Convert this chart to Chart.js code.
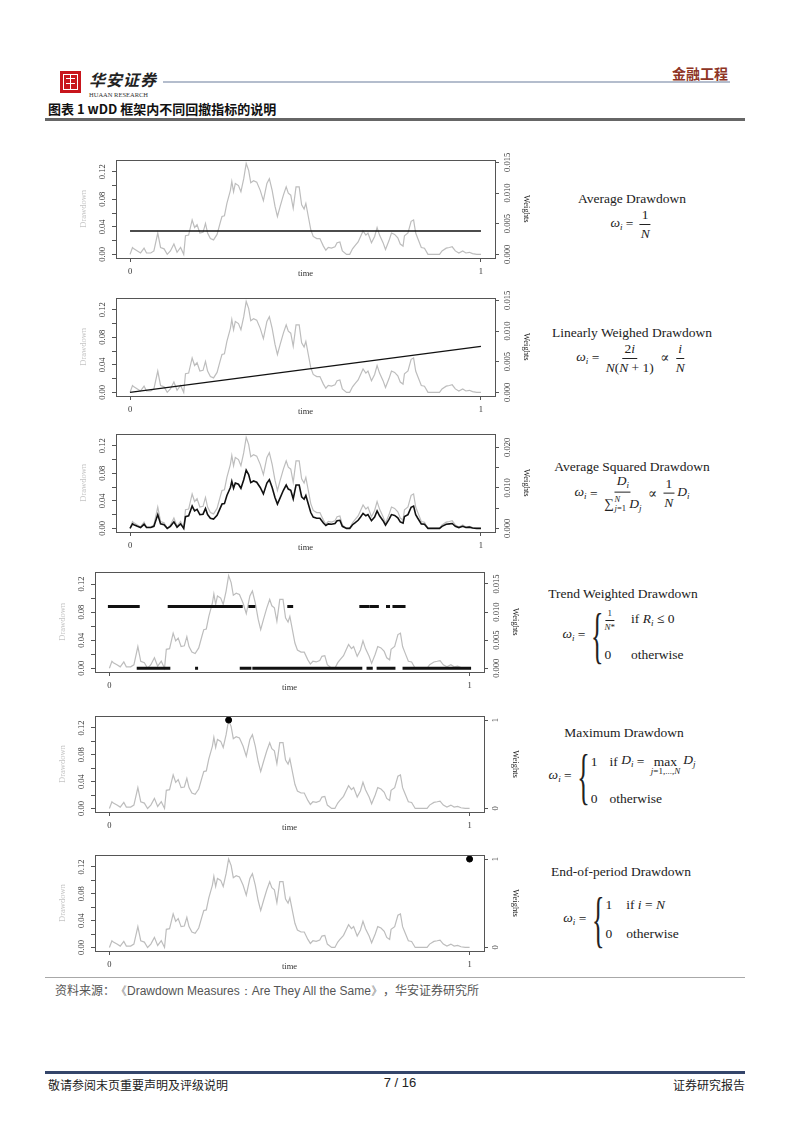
<!DOCTYPE html>
<html>
<head>
<meta charset="utf-8">
<script src="https://cdn.jsdelivr.net/npm/chart.js@4.4.0/dist/chart.umd.min.js"></script>
<style>
  body { margin: 0; background: #fff; width: 802px; height: 1133px; position: relative; overflow: hidden; font-family: "Noto Sans CJK SC", sans-serif; }
  .abs { position: absolute; white-space: nowrap; }
  canvas { position: absolute; }
  .mt { position: absolute; font-family: "Liberation Serif", "DejaVu Serif", serif; font-size: 13.5px; color: #222; white-space: nowrap; transform: translate(-50%, -50%); line-height: 1; }
  .fx { display: inline-flex; align-items: center; }
  .frac { display: inline-flex; flex-direction: column; align-items: center; margin: 0 3px; }
  .frac .n { border-bottom: 1px solid #222; padding: 0 2px 2px; text-align: center; }
  .frac .d { padding-top: 2px; }
  .sm { font-size: 9px; }
  sub { font-size: 9px; vertical-align: -3px; }
  .brace { font-size: 62px; font-weight: 200; display: inline-block; transform: scaleX(0.42); line-height: 1; margin: 0 -8px 0 -6px; }
  .rows { display: grid; grid-template-columns: auto auto; column-gap: 16px; row-gap: 16px; align-items: center; }
  .lim { display: inline-flex; flex-direction: column; align-items: center; margin: 0 3px; }
  .lim .sm { margin-top: -1px; }
  .sig { display: inline-flex; align-items: center; }
  .sig .st { display: inline-flex; flex-direction: column; font-size: 8.5px; line-height: 1; margin-left: 1px; }
</style>
</head>
<body>

<!-- header -->
<div class="abs" style="left:60px;top:71px;width:21px;height:22px;background:#c8161d;">
  <div class="abs" style="left:3px;top:3px;width:13px;height:14px;border:1px solid #fff;"></div>
  <div class="abs" style="left:6px;top:7px;width:9px;height:1px;background:#fff;"></div>
  <div class="abs" style="left:6px;top:12px;width:9px;height:1px;background:#fff;"></div>
  <div class="abs" style="left:10px;top:4px;width:1px;height:14px;background:#fff;"></div>
</div>
<div class="abs" style="left:89px;top:67px;font-size:16px;font-weight:700;font-style:italic;color:#222;letter-spacing:1px;">华安证券</div>
<div class="abs" style="left:89px;top:91px;font-family:'Liberation Serif',serif;font-size:6.5px;color:#333;">HUAAN RESEARCH</div>
<div class="abs" style="left:163px;top:81px;width:567px;height:2px;background:#b4bdcd;"></div>
<div class="abs" style="left:672px;top:63px;font-size:14px;font-weight:700;color:#8e3424;">金融工程</div>
<div class="abs" style="left:48px;top:99px;font-size:13px;font-weight:700;color:#111;">图表 1 wDD 框架内不同回撤指标的说明</div>
<div class="abs" style="left:45px;top:118px;width:700px;height:3px;background:#666;"></div>

<canvas id="c1"></canvas>
<canvas id="c2"></canvas>
<canvas id="c3"></canvas>
<canvas id="c4"></canvas>
<canvas id="c5"></canvas>
<canvas id="c6"></canvas>

<!-- formulas -->
<div class="mt" style="left:632px;top:199px;">Average Drawdown</div>
<div class="mt" style="left:632px;top:224px;"><span class="fx"><i>ω<sub>i</sub></i>&nbsp;=&nbsp;<span class="frac"><span class="n">1</span><span class="d"><i>N</i></span></span></span></div>

<div class="mt" style="left:632px;top:333px;">Linearly Weighed Drawdown</div>
<div class="mt" style="left:632px;top:358px;"><span class="fx"><i>ω<sub>i</sub></i>&nbsp;=&nbsp;<span class="frac"><span class="n">2<i>i</i></span><span class="d"><i>N</i>(<i>N</i> + 1)</span></span>&nbsp;∝&nbsp;<span class="frac"><span class="n"><i>i</i></span><span class="d"><i>N</i></span></span></span></div>

<div class="mt" style="left:632px;top:467px;">Average Squared Drawdown</div>
<div class="mt" style="left:632px;top:493px;"><span class="fx"><i>ω<sub>i</sub></i>&nbsp;=&nbsp;<span class="frac"><span class="n"><i>D<sub>i</sub></i></span><span class="d"><span class="sig">∑<span class="st"><span><i>N</i></span><span><i>j</i>=1</span></span></span>&nbsp;<i>D<sub>j</sub></i></span></span>&nbsp;∝&nbsp;<span class="frac"><span class="n">1</span><span class="d"><i>N</i></span></span><i>D<sub>i</sub></i></span></div>

<div class="mt" style="left:623px;top:594px;">Trend Weighted Drawdown</div>
<div class="mt" style="left:623px;top:635px;"><span class="fx"><i>ω<sub>i</sub></i>&nbsp;=&nbsp;<span class="brace">{</span><span class="rows"><span class="frac sm" style="margin:0"><span class="n">1</span><span class="d"><i>N</i>*</span></span><span>if <i>R<sub>i</sub></i> ≤ 0</span><span>0</span><span>otherwise</span></span></span></div>

<div class="mt" style="left:624px;top:733px;">Maximum Drawdown</div>
<div class="mt" style="left:622px;top:776px;"><span class="fx"><i>ω<sub>i</sub></i>&nbsp;=&nbsp;<span class="brace">{</span><span class="rows" style="column-gap:12px"><span>1</span><span class="fx">if <i>&nbsp;D<sub>i</sub></i>&nbsp;=&nbsp;<span class="lim" style="margin-top:8px">max<span class="sm"><i>j</i>=1,...,<i>N</i></span></span><i>D<sub>j</sub></i></span><span>0</span><span>otherwise</span></span></span></div>

<div class="mt" style="left:621px;top:872px;">End-of-period Drawdown</div>
<div class="mt" style="left:621px;top:919px;"><span class="fx"><i>ω<sub>i</sub></i>&nbsp;=&nbsp;<span class="brace">{</span><span class="rows" style="column-gap:14px"><span>1</span><span>if <i>i</i> = <i>N</i></span><span>0</span><span>otherwise</span></span></span></div>

<!-- source + footer -->
<div class="abs" style="left:45px;top:977px;width:700px;height:1px;background:#a8a8a8;"></div>
<div class="abs" style="left:55px;top:981px;font-size:12px;color:#555;">资料来源：<span style="font-family:'Liberation Sans',Arial,sans-serif;">《Drawdown Measures：Are They All the Same》</span>，华安证券研究所</div>
<div class="abs" style="left:45px;top:1071px;width:700px;height:3px;background:#34456a;"></div>
<div class="abs" style="left:48px;top:1076px;font-size:12px;color:#222;">敬请参阅末页重要声明及评级说明</div>
<div class="abs" style="left:400px;top:1075px;font-family:'Liberation Sans',Arial,sans-serif;font-size:13px;color:#222;transform:translateX(-50%);">7 / 16</div>
<div class="abs" style="right:57px;top:1076px;font-size:12px;color:#222;">证券研究报告</div>

<script>
// drawdown series (time scaled to 0..1)
const ddTime = [0.000, 0.007, 0.011, 0.021, 0.030, 0.040, 0.047, 0.059, 0.068, 0.079,
  0.087, 0.097, 0.106, 0.115, 0.125, 0.134, 0.144, 0.153, 0.158, 0.167,
  0.177, 0.184, 0.191, 0.199, 0.208, 0.215, 0.221, 0.229, 0.238, 0.248,
  0.257, 0.262, 0.269, 0.276, 0.286, 0.290, 0.295, 0.300, 0.309, 0.316,
  0.324, 0.331, 0.338, 0.344, 0.352, 0.361, 0.371, 0.380, 0.390, 0.397,
  0.405, 0.413, 0.420, 0.428, 0.437, 0.445, 0.451, 0.458, 0.465, 0.473,
  0.482, 0.489, 0.496, 0.501, 0.508, 0.515, 0.522, 0.532, 0.541, 0.551,
  0.558, 0.565, 0.574, 0.584, 0.590, 0.598, 0.605, 0.617, 0.626, 0.634,
  0.640, 0.650, 0.657, 0.664, 0.672, 0.678, 0.688, 0.697, 0.704, 0.711,
  0.721, 0.728, 0.738, 0.745, 0.754, 0.763, 0.770, 0.778, 0.782, 0.792,
  0.801, 0.808, 0.814, 0.820, 0.830, 0.839, 0.849, 0.863, 0.882, 0.889,
  0.901, 0.910, 0.918, 0.927, 0.937, 0.948, 0.957, 0.967, 0.976, 0.988, 1.000];
const ddValue = [0.000, 0.010, 0.008, 0.005, 0.002, 0.009, 0.002, 0.002, 0.005, 0.031,
  0.010, 0.008, 0.000, 0.005, 0.015, 0.003, 0.010, 0.000, 0.027, 0.028,
  0.050, 0.039, 0.043, 0.031, 0.032, 0.045, 0.031, 0.023, 0.021, 0.029,
  0.046, 0.055, 0.056, 0.074, 0.093, 0.106, 0.091, 0.103, 0.100, 0.091,
  0.110, 0.132, 0.122, 0.104, 0.107, 0.105, 0.093, 0.078, 0.103, 0.110,
  0.093, 0.070, 0.055, 0.070, 0.086, 0.098, 0.089, 0.086, 0.067, 0.098,
  0.098, 0.072, 0.066, 0.074, 0.055, 0.036, 0.026, 0.023, 0.023, 0.012,
  0.006, 0.010, 0.009, 0.011, 0.017, 0.018, 0.005, 0.000, 0.000, 0.008,
  0.012, 0.018, 0.026, 0.034, 0.028, 0.031, 0.017, 0.026, 0.039, 0.028,
  0.017, 0.007, 0.020, 0.031, 0.029, 0.024, 0.015, 0.012, 0.027, 0.031,
  0.048, 0.050, 0.031, 0.023, 0.010, 0.009, 0.000, 0.000, 0.000, 0.005,
  0.009, 0.010, 0.011, 0.005, 0.002, 0.005, 0.002, 0.003, 0.001, 0.000, 0.000];

// average squared drawdown weights, same time points
const sqWeightValue = [0, 0.0011, 0.0009, 0.0005, 0.0002, 0.0010, 0.0002, 0.0002, 0.0005, 0.0034,
  0.0011, 0.0009, 0, 0.0005, 0.0016, 0.0003, 0.0011, 0, 0.0029, 0.0031,
  0.0055, 0.0043, 0.0047, 0.0034, 0.0035, 0.0049, 0.0034, 0.0025, 0.0023, 0.0032,
  0.0050, 0.0060, 0.0061, 0.0081, 0.0101, 0.0116, 0.0099, 0.0112, 0.0109, 0.0099,
  0.0120, 0.0144, 0.0133, 0.0113, 0.0117, 0.0114, 0.0101, 0.0085, 0.0112, 0.0120,
  0.0101, 0.0076, 0.0060, 0.0076, 0.0094, 0.0107, 0.0097, 0.0094, 0.0073, 0.0107,
  0.0107, 0.0078, 0.0072, 0.0081, 0.0060, 0.0039, 0.0028, 0.0025, 0.0025, 0.0013,
  0.0007, 0.0011, 0.0010, 0.0012, 0.0019, 0.0020, 0.0005, 0, 0, 0.0009,
  0.0013, 0.0020, 0.0028, 0.0037, 0.0031, 0.0034, 0.0019, 0.0028, 0.0043, 0.0031,
  0.0019, 0.0008, 0.0022, 0.0034, 0.0032, 0.0026, 0.0016, 0.0013, 0.0029, 0.0034,
  0.0052, 0.0055, 0.0034, 0.0025, 0.0011, 0.0010, 0, 0, 0, 0.0005,
  0.0010, 0.0011, 0.0012, 0.0005, 0.0002, 0.0005, 0.0002, 0.0003, 0.0001, 0, 0];

const avgWeightTime = [0, 1];
const avgWeightValue = [0.0038, 0.0038];
const linWeightTime = [0, 1];
const linWeightValue = [0, 0.0075];

// trend weighted: runs where weight = 1/N* and runs where weight = 0
const trendWeightLevel = 0.011;
const trendOnStart = [0.000, 0.166, 0.245, 0.390, 0.498, 0.698, 0.727, 0.772, 0.790];
const trendOnEnd = [0.080, 0.240, 0.366, 0.401, 0.506, 0.718, 0.744, 0.775, 0.818];
const trendOffStart = [0.080, 0.242, 0.366, 0.401, 0.506, 0.718, 0.746, 0.777, 0.818];
const trendOffEnd = [0.165, 0.243, 0.390, 0.498, 0.698, 0.727, 0.770, 0.790, 1.000];

const maxDdTime = [0.331];
const maxDdWeight = [1];
const endDdTime = [1];
const endDdWeight = [1];

// ticks
const timeTicks = [0, 1];
const timeTickLabels = ['0', '1'];
const ddTicks = [0, 0.02, 0.04, 0.06, 0.08, 0.10, 0.12];
const ddTickLabels = ['0.00', '', '0.04', '', '0.08', '', '0.12'];
const weightTicksA = [0, 0.005, 0.010, 0.015];
const weightLabelsA = ['0.000', '0.005', '0.010', '0.015'];
const weightTicksB = [0, 0.005, 0.010, 0.015, 0.020];
const weightLabelsB = ['0.000', '', '0.010', '', '0.020'];
const weightTicksC = [0, 1];
const weightLabelsC = ['0', '1'];

const pts = (xs, ys) => xs.map((x, i) => ({x: x, y: ys[i]}));
const runs = (starts, ends, level) => {
  const out = [];
  starts.forEach((s, i) => {
    out.push({x: s, y: level}, {x: ends[i], y: level}, {x: ends[i], y: null});
  });
  return out;
};

const SERIF = '"Liberation Serif", "DejaVu Serif", serif';
const tickFont = {family: SERIF, size: 8.5};

const boxPlugin = {
  id: 'box',
  afterDatasetsDraw(chart) {
    const a = chart.chartArea, ctx = chart.ctx;
    ctx.save();
    ctx.strokeStyle = '#555';
    ctx.lineWidth = 1;
    ctx.strokeRect(Math.round(a.left) + 0.5, Math.round(a.top) + 0.5,
      Math.round(a.right - a.left), Math.round(a.bottom - a.top));
    ctx.restore();
  }
};

function greyLine() {
  return {data: pts(ddTime, ddValue), yAxisID: 'y', borderColor: '#bdbdbd', borderWidth: 1.2, pointRadius: 0};
}

function makePanel(p) {
  const cv = document.getElementById(p.id);
  const leftW = 60, rightW = 50, topPad = 4, bottomH = 24;
  cv.width = p.boxW + leftW + rightW;
  cv.height = p.boxH + topPad + bottomH;
  cv.style.left = (p.boxLeft - leftW) + 'px';
  cv.style.top = (p.boxTop - topPad) + 'px';

  const rightWidest = p.wLabels.reduce((m, s) => Math.max(m, s.length), 0);
  const rightPad = 12 - 4 - (rightWidest > 1 ? 9 : 2);

  new Chart(cv, {
    type: 'line',
    data: {datasets: p.weights.concat([greyLine()])},
    plugins: [boxPlugin],
    options: {
      responsive: false,
      animation: false,
      layout: {padding: {top: topPad, left: 0, right: 0, bottom: 0}},
      plugins: {legend: {display: false}, tooltip: {enabled: false}},
      scales: {
        x: {
          type: 'linear', min: -0.04, max: 1.04,
          afterBuildTicks: s => { s.ticks = timeTicks.map(v => ({value: v})); },
          afterFit: s => { s.height = bottomH; },
          ticks: {font: tickFont, color: '#333', padding: 5, autoSkip: false, maxRotation: 0,
            callback: (v, i) => timeTickLabels[i]},
          grid: {display: true, drawOnChartArea: false, drawTicks: true, tickLength: 4, color: '#555'},
          border: {display: false},
          title: {display: true, text: 'time', font: tickFont, color: '#333', padding: {top: 0, bottom: 3}}
        },
        y: {
          type: 'linear', position: 'left', min: -0.0053, max: 0.1377,
          afterBuildTicks: s => { s.ticks = ddTicks.map(v => ({value: v})); },
          afterFit: s => { s.width = leftW; },
          ticks: {font: tickFont, color: '#333', padding: 1.5, autoSkip: false,
            minRotation: 90, maxRotation: 90, crossAlign: 'center',
            callback: (v, i) => ddTickLabels[i]},
          grid: {display: true, drawOnChartArea: false, drawTicks: true, tickLength: 4, color: '#555'},
          border: {display: false},
          title: {display: true, text: 'Drawdown', font: tickFont, color: '#c4c4c4', padding: {top: 23, bottom: 0}}
        },
        y2: {
          type: 'linear', position: 'right', min: p.wMin, max: p.wMax,
          afterBuildTicks: s => { s.ticks = p.wTicks.map(v => ({value: v})); },
          afterFit: s => { s.width = rightW; },
          ticks: {font: tickFont, color: '#333', padding: rightPad, autoSkip: false,
            minRotation: 90, maxRotation: 90, crossAlign: 'center',
            callback: (v, i) => p.wLabels[i]},
          grid: {display: true, drawOnChartArea: false, drawTicks: true, tickLength: 4, color: '#555'},
          border: {display: false},
          title: {display: true, text: 'Weights', font: tickFont, color: '#222', padding: {top: 14, bottom: 0}}
        }
      }
    }
  });
}

const blackLine = data => ({data: data, yAxisID: 'y2', borderColor: '#111', borderWidth: 1.4, pointRadius: 0, spanGaps: false});

makePanel({id: 'c1', boxLeft: 116, boxTop: 157, boxW: 379, boxH: 101,
  wMin: -0.000595, wMax: 0.01545, wTicks: weightTicksA, wLabels: weightLabelsA,
  weights: [blackLine(pts(avgWeightTime, avgWeightValue))]});
makePanel({id: 'c2', boxLeft: 116, boxTop: 295, boxW: 379, boxH: 101,
  wMin: -0.000595, wMax: 0.01545, wTicks: weightTicksA, wLabels: weightLabelsA,
  weights: [blackLine(pts(linWeightTime, linWeightValue))]});
makePanel({id: 'c3', boxLeft: 116, boxTop: 431, boxW: 379, boxH: 101,
  wMin: -0.0009, wMax: 0.0234, wTicks: weightTicksB, wLabels: weightLabelsB,
  weights: [Object.assign(blackLine(pts(ddTime, sqWeightValue)), {borderWidth: 1.6})]});
makePanel({id: 'c4', boxLeft: 95, boxTop: 569, boxW: 389, boxH: 103,
  wMin: -0.00066, wMax: 0.0172, wTicks: weightTicksA, wLabels: weightLabelsA,
  weights: [
    Object.assign(blackLine(runs(trendOnStart, trendOnEnd, trendWeightLevel)), {borderWidth: 3, borderCapStyle: 'square'}),
    Object.assign(blackLine(runs(trendOffStart, trendOffEnd, 0)), {borderWidth: 3, borderCapStyle: 'square'})
  ]});
makePanel({id: 'c5', boxLeft: 95, boxTop: 709, boxW: 389, boxH: 103,
  wMin: -0.040, wMax: 1.045, wTicks: weightTicksC, wLabels: weightLabelsC,
  weights: [{data: pts(maxDdTime, maxDdWeight), yAxisID: 'y2', showLine: false, pointRadius: 3,
    backgroundColor: '#000', borderColor: '#000', clip: false}]});
makePanel({id: 'c6', boxLeft: 95, boxTop: 848, boxW: 389, boxH: 103,
  wMin: -0.040, wMax: 1.045, wTicks: weightTicksC, wLabels: weightLabelsC,
  weights: [{data: pts(endDdTime, endDdWeight), yAxisID: 'y2', showLine: false, pointRadius: 3,
    backgroundColor: '#000', borderColor: '#000', clip: false}]});
</script>
</body>
</html>
